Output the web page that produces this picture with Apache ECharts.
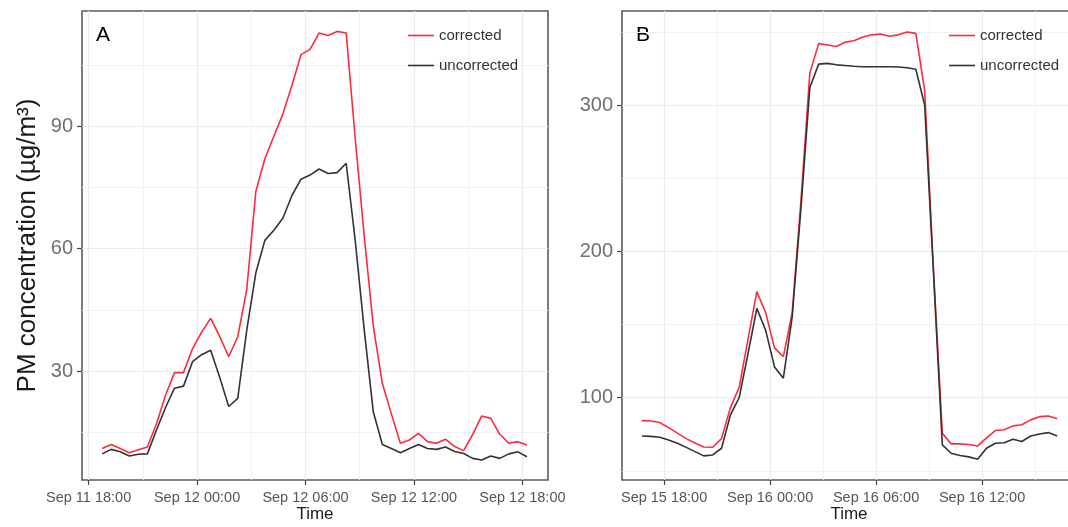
<!DOCTYPE html>
<html>
<head>
<meta charset="utf-8">
<script src="https://cdn.jsdelivr.net/npm/echarts@6/dist/echarts.min.js"></script>
<style>html,body{margin:0;padding:0;background:#fff}#c{width:1068px;height:527px}</style>
</head>
<body>
<div id="c"></div>
<script>
// ---------- DATA ----------
const timesA = [
 '2019-09-11 18:45','2019-09-11 19:15','2019-09-11 19:45','2019-09-11 20:15','2019-09-11 20:45','2019-09-11 21:15',
 '2019-09-11 21:45','2019-09-11 22:15','2019-09-11 22:45','2019-09-11 23:15','2019-09-11 23:45',
 '2019-09-12 00:15','2019-09-12 00:45','2019-09-12 01:15','2019-09-12 01:45','2019-09-12 02:15','2019-09-12 02:45',
 '2019-09-12 03:15','2019-09-12 03:45','2019-09-12 04:15','2019-09-12 04:45','2019-09-12 05:15','2019-09-12 05:45',
 '2019-09-12 06:15','2019-09-12 06:45','2019-09-12 07:15','2019-09-12 07:45','2019-09-12 08:15','2019-09-12 08:45',
 '2019-09-12 09:15','2019-09-12 09:45','2019-09-12 10:15','2019-09-12 10:45','2019-09-12 11:15','2019-09-12 11:45',
 '2019-09-12 12:15','2019-09-12 12:45','2019-09-12 13:15','2019-09-12 13:45','2019-09-12 14:15','2019-09-12 14:45',
 '2019-09-12 15:15','2019-09-12 15:45','2019-09-12 16:15','2019-09-12 16:45','2019-09-12 17:15','2019-09-12 17:45',
 '2019-09-12 18:15'];
const correctedA = [11.0,12.0,11.0,10.0,10.7,11.4,17,24,29.6,29.6,
 35.5,39.5,42.9,38.5,33.5,38.4,50,74,82,87.5,
 93,100,107.5,108.8,112.8,112.2,113.2,112.8,87,63,
 41,27,19.5,12.3,13.1,14.7,12.7,12.3,13.3,11.5,
 10.5,14.5,19,18.4,14.5,12.3,12.7,11.9];
const uncorrectedA = [9.7,10.8,10.2,9.2,9.6,9.7,15.5,21,25.8,26.3,
 32.3,34,35.1,28.5,21.3,23.3,40,54,62,64.5,
 67.5,73,77,78,79.5,78.4,78.6,80.9,62,40,
 20,12,11,10,11,12,11,10.8,11.4,10.3,
 9.8,8.6,8.2,9.2,8.6,9.7,10.2,9.0];

const timesB = [
 '2019-09-15 16:45','2019-09-15 17:15','2019-09-15 17:45','2019-09-15 18:15','2019-09-15 18:45','2019-09-15 19:15',
 '2019-09-15 19:45','2019-09-15 20:15','2019-09-15 20:45','2019-09-15 21:15','2019-09-15 21:45','2019-09-15 22:15',
 '2019-09-15 22:45','2019-09-15 23:15','2019-09-15 23:45',
 '2019-09-16 00:15','2019-09-16 00:45','2019-09-16 01:15','2019-09-16 01:45','2019-09-16 02:15','2019-09-16 02:45',
 '2019-09-16 03:15','2019-09-16 03:45','2019-09-16 04:15','2019-09-16 04:45','2019-09-16 05:15','2019-09-16 05:45',
 '2019-09-16 06:15','2019-09-16 06:45','2019-09-16 07:15','2019-09-16 07:45','2019-09-16 08:15','2019-09-16 08:45',
 '2019-09-16 09:15','2019-09-16 09:45','2019-09-16 10:15','2019-09-16 10:45','2019-09-16 11:15','2019-09-16 11:45',
 '2019-09-16 12:15','2019-09-16 12:45','2019-09-16 13:15','2019-09-16 13:45','2019-09-16 14:15','2019-09-16 14:45',
 '2019-09-16 15:15','2019-09-16 15:45','2019-09-16 16:15'];
const correctedB = [84.3,84,83,79.5,75.7,72,69,66.3,66.1,72,
 93,107,140,172.5,158,134,128,158,235,322,
 342,341,340,343,344,346.5,348,348.6,347,348,
 350,349,310,187,75.7,68.4,68.4,68,67,72.5,
 77.5,78,80.7,81.5,84.8,87,87.5,85.6];
const uncorrectedB = [73.8,73.5,72.9,71,68.8,66,63.1,60.2,60.8,65.4,
 88,100,130,161,146,121,113.3,155,230,312,
 328,328.5,327.5,327,326.5,326.2,326.2,326.2,326.2,326,
 325.5,324.5,300,185,67.7,62,60.5,59.5,57.9,65.4,
 68.8,69.2,71.6,70,73.8,75.2,76.1,73.8];

const xMajorA = ['2019-09-11 18:00','2019-09-12 00:00','2019-09-12 06:00','2019-09-12 12:00','2019-09-12 18:00'];
const xMinorA = ['2019-09-11 21:00','2019-09-12 03:00','2019-09-12 09:00','2019-09-12 15:00'];
const xMajorB = ['2019-09-15 18:00','2019-09-16 00:00','2019-09-16 06:00','2019-09-16 12:00'];
const xMinorB = ['2019-09-15 21:00','2019-09-16 03:00','2019-09-16 09:00','2019-09-16 15:00'];
const yMajorA = [30,60,90];
const yMinorA = [15,45,75,105];
const yMajorB = [100,200,300];
const yMinorB = [50,150,250,350];
const seriesNames = ['corrected','uncorrected'];
const panelLabels = ['A','B'];
const yTitle = 'PM concentration (µg/m³)';
const xTitle = 'Time';

// ---------- CHART ----------
const chart = echarts.init(document.getElementById('c'), null, {renderer:'canvas'});
const FONT = 'Liberation Sans, Arial, sans-serif';
const RED = '#ff2b3c', DARK = '#333333';
const GRID_COL = '#ebebeb';

function ts(s){ return echarts.number.parseDate(s).getTime(); }
function tsList(a){ return a.map(ts); }
function pairs(t, v){ return t.map((x,i)=>[ts(x), v[i]]); }
function fmtTime(v){ return echarts.time.format(v, '{MMM} {dd} {HH}:{mm}', false); }

function xMain(grid, min, max, major){
  return {type:'value', gridIndex:grid, min:ts(min), max:ts(max),
    name:xTitle, nameLocation:'middle', nameGap:25.5, nameMoveOverlap:false,
    nameTextStyle:{fontFamily:FONT, fontSize:17, color:'#1a1a1a'},
    axisLine:{show:false},
    axisTick:{show:true, length:5, customValues:tsList(major), lineStyle:{color:'#444', width:1.2}},
    axisLabel:{show:true, customValues:tsList(major), formatter:fmtTime, margin:10,
      fontFamily:FONT, fontSize:14.5, color:'#555', hideOverlap:false, showMinLabel:true, showMaxLabel:true},
    splitLine:{show:true, lineStyle:{color:GRID_COL, width:1.2}}};
}
function xMinor(grid, min, max, minor){
  return {type:'value', gridIndex:grid, min:ts(min), max:ts(max), position:'bottom',
    axisLine:{show:false}, axisTick:{show:false, customValues:tsList(minor)},
    axisLabel:{show:false, customValues:tsList(minor)},
    splitLine:{show:true, lineStyle:{color:'#f2f2f2', width:1}}};
}
function yMain(grid, min, max, major, withName){
  const o = {type:'value', gridIndex:grid, min:min, max:max,
    axisLine:{show:false},
    axisTick:{show:true, length:5, customValues:major, lineStyle:{color:'#444', width:1.2}},
    axisLabel:{show:true, customValues:major, margin:9, fontFamily:FONT, fontSize:20, color:'#707070'},
    splitLine:{show:true, lineStyle:{color:GRID_COL, width:1.2}}};
  if (withName){
    o.name = yTitle; o.nameLocation = 'middle'; o.nameGap = 41; o.nameMoveOverlap = false;
    o.nameTextStyle = {fontFamily:FONT, fontSize:26, color:'#1a1a1a'};
  }
  return o;
}
function yMinor(grid, min, max, minor){
  return {type:'value', gridIndex:grid, min:min, max:max, position:'left',
    axisLine:{show:false}, axisTick:{show:false, customValues:minor},
    axisLabel:{show:false, customValues:minor},
    splitLine:{show:true, lineStyle:{color:'#f2f2f2', width:1}}};
}
function line(name, color, xi, yi, data){
  return {type:'line', name:name, xAxisIndex:xi, yAxisIndex:yi, data:data,
    symbol:'none', showSymbol:false, smooth:false, animation:false,
    lineStyle:{color:color, width:1.6}, itemStyle:{color:color}};
}

const minA = '2019-09-11 17:38', maxA = '2019-09-12 19:25';
const minB = '2019-09-15 15:37', maxB = '2019-09-16 17:19';

const legendBase = {orient:'vertical', itemWidth:26, itemHeight:14, itemGap:15,
  icon:'path://M0,0H26V1.6H0Z',
  textStyle:{fontFamily:FONT, fontSize:15, color:'#333', lineHeight:14}, data:seriesNames,
  selectedMode:false};

chart.setOption({
  animation:false,
  backgroundColor:'#fff',
  grid:[
    {left:82, top:11, width:466, height:469, show:true, borderColor:'#5a5a5a', borderWidth:1.6,
     backgroundColor:'#fff', containLabel:false, outerBoundsMode:'none'},
    {left:622, top:11, width:454, height:469, show:true, borderColor:'#5a5a5a', borderWidth:1.6,
     backgroundColor:'#fff', containLabel:false, outerBoundsMode:'none'}
  ],
  xAxis:[
    xMain(0, minA, maxA, xMajorA),
    xMinor(0, minA, maxA, xMinorA),
    xMain(1, minB, maxB, xMajorB),
    xMinor(1, minB, maxB, xMinorB)
  ],
  yAxis:[
    yMain(0, 3.3, 118.2, yMajorA, true),
    yMinor(0, 3.3, 118.2, yMinorA),
    yMain(1, 43.7, 364.3, yMajorB, false),
    yMinor(1, 43.7, 364.3, yMinorB)
  ],
  legend:[
    Object.assign({left:403, top:23}, legendBase),
    Object.assign({left:944, top:23}, legendBase)
  ],
  graphic:[
    {type:'text', left:96, top:25, style:{text:panelLabels[0], font:'21px '+FONT, fill:'#000'}},
    {type:'text', left:636, top:25, style:{text:panelLabels[1], font:'21px '+FONT, fill:'#000'}}
  ],
  series:[
    line(seriesNames[0], RED, 0, 0, pairs(timesA, correctedA)),
    line(seriesNames[1], DARK, 0, 0, pairs(timesA, uncorrectedA)),
    line(seriesNames[0], RED, 2, 2, pairs(timesB, correctedB)),
    line(seriesNames[1], DARK, 2, 2, pairs(timesB, uncorrectedB))
  ]
});
</script>
</body>
</html>
